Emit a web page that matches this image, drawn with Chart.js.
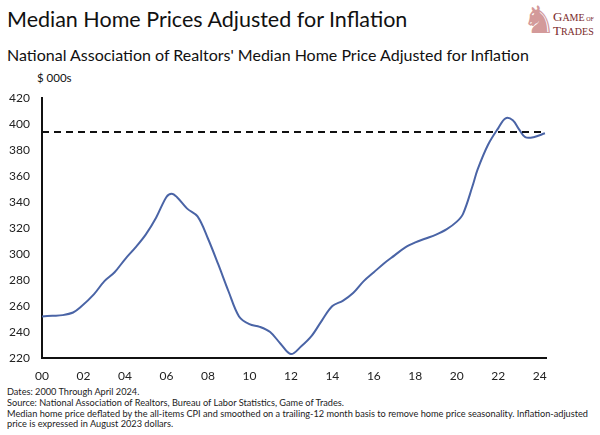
<!DOCTYPE html>
<html lang="en">
<head>
<meta charset="UTF-8">
<title>Median Home Prices Adjusted for Inflation</title>
<script src="https://cdn.jsdelivr.net/npm/chart.js"></script>
<style>
    body {
        margin: 0;
        width: 600px;
        height: 435px;
        background: #fff;
        font-family: Lato, "Noto Sans", sans-serif;
        color: #111;
        position: relative;
        overflow: hidden;
    }
    .abs { position: absolute; white-space: nowrap; transform-origin: left top; }
    #title { left: 7px; top: 6px; font-size: 21.5px; }
    #subtitle { left: 7px; top: 45px; font-size: 16px; }
    #unit { left: 37px; top: 71px; font-size: 11.5px; }
    #notes { left: 7px; top: 387px; font-size: 9.4px; line-height: 10.8px; color: #222; transform: scaleX(0.98); }
    #logo { left: 522px; top: 2px; width: 78px; height: 44px; }
    #logo .knight { position: absolute; left: 0; top: -4px; font-family: "DejaVu Sans"; font-size: 38px; color: #d39a9a; }
    #logo .name { position: absolute; left: 31px; top: 9px; font-family: "Liberation Serif", serif; font-size: 10px; line-height: 12px; color: #7a2a2a; }
    #logo .big { font-size: 13px; }
    #wrap { position: absolute; left: 0; top: 79px; width: 560px; height: 304px; }
</style>
</head>
<body>
<div id="title" class="abs">Median Home Prices Adjusted for Inflation</div>
<div id="logo" class="abs"><span class="knight">♞</span><div class="name"><span class="big">G</span>AME<span style="font-size:6px"> OF</span><br><span class="big">T</span>RADES</div></div>
<div id="subtitle" class="abs">National Association of Realtors' Median Home Price Adjusted for Inflation</div>
<div id="unit" class="abs">$ 000s</div>
<div id="wrap"><canvas id="chart"></canvas></div>
<div id="notes" class="abs">Dates: 2000 Through April 2024.<br>
Source: National Association of Realtors, Bureau of Labor Statistics, Game of Trades.<br>
Median home price deflated by the all-items CPI and smoothed on a trailing-12 month basis to remove home price seasonality. Inflation-adjusted<br>
price is expressed in August 2023 dollars.</div>

<script>
// years since 2000 (fractional) and inflation-adjusted median price, $000s
const years = [0, 0.5, 1, 1.5, 1.85, 2.5, 3, 3.5, 4, 4.5, 5, 5.5, 6, 6.25, 6.5, 7, 7.5, 8, 8.5, 9, 9.5,
    10, 10.5, 11, 11.5, 12, 12.5, 13, 13.5, 14, 14.5, 15, 15.5, 16, 16.5, 17, 17.5, 18, 18.5, 19, 19.5,
    20, 20.3, 20.75, 21, 21.5, 22, 22.35, 22.7, 23, 23.3, 23.7, 24.25];
const prices = [252, 252.5, 253, 255, 259, 269, 279, 286, 296, 305, 315, 328, 344, 346.5, 344, 335, 329, 312, 292, 271, 252,
    246, 244, 240, 231, 223, 229, 237, 249, 260, 264, 270, 279, 286, 293, 299, 305, 309, 312, 315, 319,
    325, 331, 352, 365, 384, 397, 404.5, 403, 396, 390, 390, 393];
const refLevel = 394;
const xTicks = [0, 2, 4, 6, 8, 10, 12, 14, 16, 18, 20, 22, 24];

const series = years.map((x, i) => ({ x: x, y: prices[i] }));
const refLine = [{ x: 0, y: refLevel }, { x: 24.3, y: refLevel }];

const tickFont = { family: 'Lato', size: 12 };

new Chart(document.getElementById('chart'), {
    type: 'line',
    data: {
        datasets: [
            {
                data: refLine,
                borderColor: '#111',
                borderWidth: 2,
                borderDash: [7, 5],
                pointRadius: 0
            },
            {
                data: series,
                borderColor: '#4a64a6',
                borderWidth: 2,
                tension: 0.35,
                pointRadius: 0
            }
        ]
    },
    options: {
        responsive: true,
        maintainAspectRatio: false,
        animation: false,
        layout: { padding: { top: 0, right: 14, left: 0, bottom: 0 } },
        plugins: { legend: { display: false }, tooltip: { enabled: false } },
        scales: {
            x: {
                type: 'linear',
                min: 0,
                max: 24.3,
                afterBuildTicks: s => { s.ticks = xTicks.map(v => ({ value: v })); },
                afterFit: s => { s.height = 25; },
                grid: { display: false, drawTicks: false },
                border: { display: true, color: '#111', width: 2 },
                ticks: {
                    color: '#222',
                    font: tickFont,
                    padding: 11,
                    maxRotation: 0,
                    callback: v => String(v).padStart(2, '0')
                }
            },
            y: {
                min: 220,
                max: 420,
                afterFit: s => { s.width = 42; },
                grid: { display: false, drawTicks: false },
                border: { display: true, color: '#111', width: 2 },
                ticks: { stepSize: 20, color: '#222', font: tickFont, padding: 12 }
            }
        }
    }
});
</script>
</body>
</html>
